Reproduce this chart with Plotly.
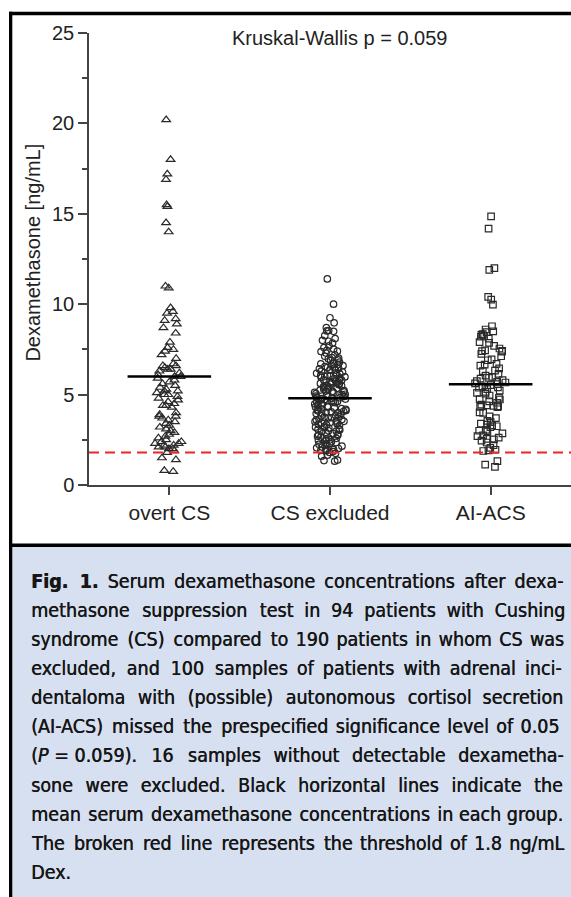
import plotly.graph_objects as go

# ---------------- data ----------------
categories = ["overt CS", "CS excluded", "AI-ACS"]

overt_cs = [20.2, 18.0, 17.2, 16.9, 15.5, 15.4, 14.5, 14.0, 11.0, 10.9,
            9.8, 9.6, 9.5, 9.2, 9.1, 8.9, 8.7, 8.4, 7.9, 7.6, 7.5, 7.4, 7.2, 7.0,
            6.7, 6.6, 6.6, 6.5, 6.4, 6.4, 6.3, 6.2, 6.1, 6.0, 6.0, 5.9, 5.8, 5.7,
            5.6, 5.5, 5.4, 5.3, 5.2, 5.2, 5.1, 5.0, 5.0, 4.9, 4.8, 4.7, 4.6, 4.5,
            4.4, 4.4, 4.3,
            4.0, 3.9, 3.8, 3.8, 3.7, 3.6, 3.5, 3.4, 3.3, 3.2, 3.1, 3.0, 2.9, 2.8,
            2.7, 2.6, 2.5, 2.4, 2.4, 2.3, 2.3, 2.2, 2.2, 2.1, 2.1, 2.0, 2.0, 1.9,
            1.8, 1.5, 1.4, 0.8, 0.75]

cs_excluded = [11.4, 10.0, 9.25, 8.97,
               8.54, 8.52, 8.50, 8.7,
               8.26, 8.1, 8.0,
               7.95, 7.85, 7.7, 7.6, 7.52,
               7.45, 7.4, 7.38, 7.3, 7.2, 7.12, 7.05, 7.02,
               6.98, 6.92, 6.88, 6.8, 6.75, 6.7, 6.66, 6.62, 6.6, 6.55, 6.5, 6.48,
               6.45, 6.42, 6.38, 6.35, 6.3, 6.25, 6.2, 6.18, 6.15, 6.1, 6.08, 6.05, 6.02, 6.0,
               5.98, 5.95, 5.9, 5.88, 5.85, 5.82, 5.8, 5.75, 5.72, 5.7, 5.65, 5.62, 5.6, 5.58, 5.55, 5.5,
               5.48, 5.45, 5.42, 5.4, 5.35, 5.32, 5.3, 5.25, 5.22, 5.2, 5.18, 5.15, 5.12, 5.1, 5.05, 5.02, 5.0,
               4.98, 4.95, 4.92, 4.9, 4.88, 4.85, 4.82, 4.8, 4.78, 4.75, 4.72, 4.7, 4.65, 4.62, 4.6, 4.58, 4.55, 4.5,
               4.48, 4.45, 4.42, 4.4, 4.35, 4.32, 4.3, 4.25, 4.22, 4.2, 4.18, 4.15, 4.12, 4.1, 4.08, 4.05, 4.02, 4.0,
               3.98, 3.95, 3.9, 3.85, 3.82, 3.8, 3.75, 3.72, 3.7, 3.65, 3.62, 3.6, 3.55, 3.52, 3.5,
               3.48, 3.45, 3.42, 3.38, 3.35, 3.32, 3.3, 3.25, 3.2, 3.18, 3.15, 3.1, 3.08, 3.05, 3.0,
               2.98, 2.95, 2.9, 2.85, 2.8, 2.78, 2.75, 2.7, 2.65, 2.6, 2.58, 2.55, 2.5,
               2.48, 2.45, 2.4, 2.35, 2.3, 2.28, 2.25, 2.2, 2.15, 2.1, 2.06, 2.02,
               1.98, 1.96, 1.92, 1.9, 1.85, 1.8, 1.75, 1.65, 1.59,
               1.38, 1.35, 1.32]

ai_acs = [14.86, 14.18, 12.0, 11.9, 10.4, 10.25, 9.98,
          8.78, 8.6, 8.5,
          8.45, 8.35, 8.32, 8.25, 8.2, 8.1,
          7.9, 7.86, 7.7, 7.55,
          7.45, 7.42, 7.4, 7.38, 7.25, 7.12,
          6.95, 6.9, 6.7, 6.66, 6.6,
          6.45, 6.33, 6.3, 6.15, 6.05,
          5.98, 5.92, 5.88, 5.8, 5.75, 5.7, 5.67, 5.62, 5.58, 5.52,
          5.45, 5.4, 5.38, 5.3, 5.22, 5.15, 5.1, 5.05,
          4.95, 4.82, 4.75, 4.73, 4.62, 4.55,
          4.45, 4.4, 4.38, 4.35, 4.32, 4.3, 4.02,
          3.99, 3.8, 3.7, 3.55,
          3.48, 3.4, 3.34, 3.3, 3.25, 3.2, 3.05, 3.0,
          2.97, 2.85, 2.74, 2.7, 2.62, 2.55, 2.52,
          2.45, 2.35, 2.2, 2.05,
          1.95, 1.91, 1.88,
          1.32, 1.13, 1.0]

group_values = [overt_cs, cs_excluded, ai_acs]
mean_values = [6.0, 4.8, 5.57]
threshold = 1.8
y_ticks = [0, 5, 10, 15, 20, 25]
annotation_text = "Kruskal-Wallis p = 0.059"
y_title = "Dexamethasone [ng/mL]"

caption_lines = [
    "<b>Fig. 1.</b> Serum dexamethasone concentrations after dexa-",
    "methasone suppression test in 94 patients with Cushing",
    "syndrome (CS) compared to 190 patients in whom CS was",
    "excluded, and 100 samples of patients with adrenal inci-",
    "dentaloma with (possible) autonomous cortisol secretion",
    "(AI-ACS) missed the prespecified significance level of 0.05",
    "(<i>P</i> = 0.059). 16 samples without detectable dexametha-",
    "sone were excluded. Black horizontal lines indicate the",
    "mean serum dexamethasone concentrations in each group.",
    "The broken red line represents the threshold of 1.8 ng/mL",
    "Dex.",
]

# ---------------- layout geometry (pixels) ----------------
W, H = 571, 897
L, R, T, B = 89, 571, 33.3, 485.5


def px_x(p):
    return (p - L) / (R - L)


def px_y(p):
    return (B - p) / (B - T)


# extra width (px) to spread over the word gaps of each caption line (justification)
caption_pad_px = [23, 41, 21, 33, 33, 17, 39, 50, 7, 24, 0]
HAIR_PX = 1.76
HAIR = "\u200a"


def justify(line, pad_px):
    words = line.split(" ")
    gaps = [i for i in range(len(words) - 1)
            if words[i] != "=" and words[i + 1] != "="]
    if not gaps or pad_px <= 0:
        return line
    n = int(round(pad_px / HAIR_PX))
    per, rem = divmod(n, len(gaps))
    out = words[0]
    for i in range(len(words) - 1):
        sep = " "
        if i in gaps:
            k = gaps.index(i)
            sep += HAIR * (per + (1 if k < rem else 0))
        out += sep + words[i + 1]
    return out


symbols = ["triangle-up-open", "circle-open", "square-open"]
sizes = [7.5, 6.5, 6.5]
mark_col = "#2a2a2a"

fig = go.Figure()
for cat, vals, sym, sz in zip(categories, group_values, symbols, sizes):
    fig.add_trace(go.Box(
        x=[cat] * len(vals), y=vals, name=cat,
        boxpoints="all", jitter=1.0, pointpos=0, width=0.2,
        fillcolor="rgba(0,0,0,0)", line=dict(width=0, color="rgba(0,0,0,0)"),
        marker=dict(symbol=sym, size=sz, color=mark_col,
                    line=dict(width=1.2, color=mark_col)),
        showlegend=False, hoverinfo="y",
    ))

shapes = []
# mean lines
for i, m in enumerate(mean_values):
    shapes.append(dict(type="line", xref="x", yref="y", x0=i - 0.26, x1=i + 0.26,
                       y0=m, y1=m, line=dict(color="black", width=2.6), layer="above"))
# threshold
shapes.append(dict(type="line", xref="paper", yref="y", x0=0, x1=1,
                   y0=threshold, y1=threshold,
                   line=dict(color="rgb(232,38,38)", width=2, dash="10px,6px"), layer="above"))
# frame
black = "black"
shapes.append(dict(type="rect", xref="paper", yref="paper", x0=px_x(9), x1=px_x(575),
                   y0=px_y(15.5), y1=px_y(12), fillcolor=black, line=dict(width=0), layer="above"))
shapes.append(dict(type="rect", xref="paper", yref="paper", x0=px_x(9), x1=px_x(12.3),
                   y0=px_y(900), y1=px_y(12), fillcolor=black, line=dict(width=0), layer="above"))
shapes.append(dict(type="rect", xref="paper", yref="paper", x0=px_x(12.3), x1=px_x(575),
                   y0=px_y(900), y1=px_y(547.5), fillcolor="#d6e0f0", line=dict(width=0), layer="below"))
shapes.append(dict(type="rect", xref="paper", yref="paper", x0=px_x(9), x1=px_x(575),
                   y0=px_y(547.5), y1=px_y(544), fillcolor=black, line=dict(width=0), layer="above"))

annotations = [
    dict(text=annotation_text, xref="paper", yref="paper", x=px_x(339), y=px_y(38),
         xanchor="center", yanchor="middle", showarrow=False,
         font=dict(family="Liberation Sans, Arial", size=20, color="#222")),
    dict(text=y_title, xref="paper", yref="paper", x=px_x(33), y=px_y(253),
         xanchor="center", yanchor="middle", showarrow=False, textangle=-90,
         font=dict(family="Liberation Sans, Arial", size=20, color="#222")),
]
cap_font = dict(family="DejaVu Sans Condensed, Liberation Sans Narrow, Roboto",
                size=19.5, color="#161616",
                shadow="0.45px 0 0 #161616")
for i, line in enumerate(caption_lines):
    annotations.append(dict(text=justify(line, caption_pad_px[i]), xref="paper", yref="paper",
                            x=px_x(29), y=px_y(581.7 + 29.15 * i),
                            xanchor="left", yanchor="middle", showarrow=False,
                            font=cap_font))

fig.update_layout(
    width=W, height=H,
    margin=dict(l=L, r=W - R, t=T, b=H - B, pad=0),
    paper_bgcolor="white", plot_bgcolor="white",
    shapes=shapes, annotations=annotations,
    boxmode="overlay",
    xaxis=dict(type="category", categoryorder="array", categoryarray=categories,
               range=[-0.5, 2.5], showline=True, linecolor="#444", linewidth=1.5,
               ticks="outside", ticklen=8, tickwidth=1.5, tickcolor="#444",
               showgrid=False, zeroline=False,
               tickfont=dict(family="Liberation Sans, Arial", size=21, color="#222")),
    yaxis=dict(range=[0, 25], tickvals=y_ticks, showline=True, linecolor="#444",
               linewidth=1.5, ticks="outside", ticklen=9, tickwidth=1.5, tickcolor="#444",
               showgrid=False, zeroline=False,
               minor=dict(dtick=2.5, ticks="outside", ticklen=5, tickwidth=1.5, tickcolor="#444",
                          showgrid=False),
               tickfont=dict(family="Liberation Sans, Arial", size=20, color="#222")),
)

fig.write_html("out.html")
